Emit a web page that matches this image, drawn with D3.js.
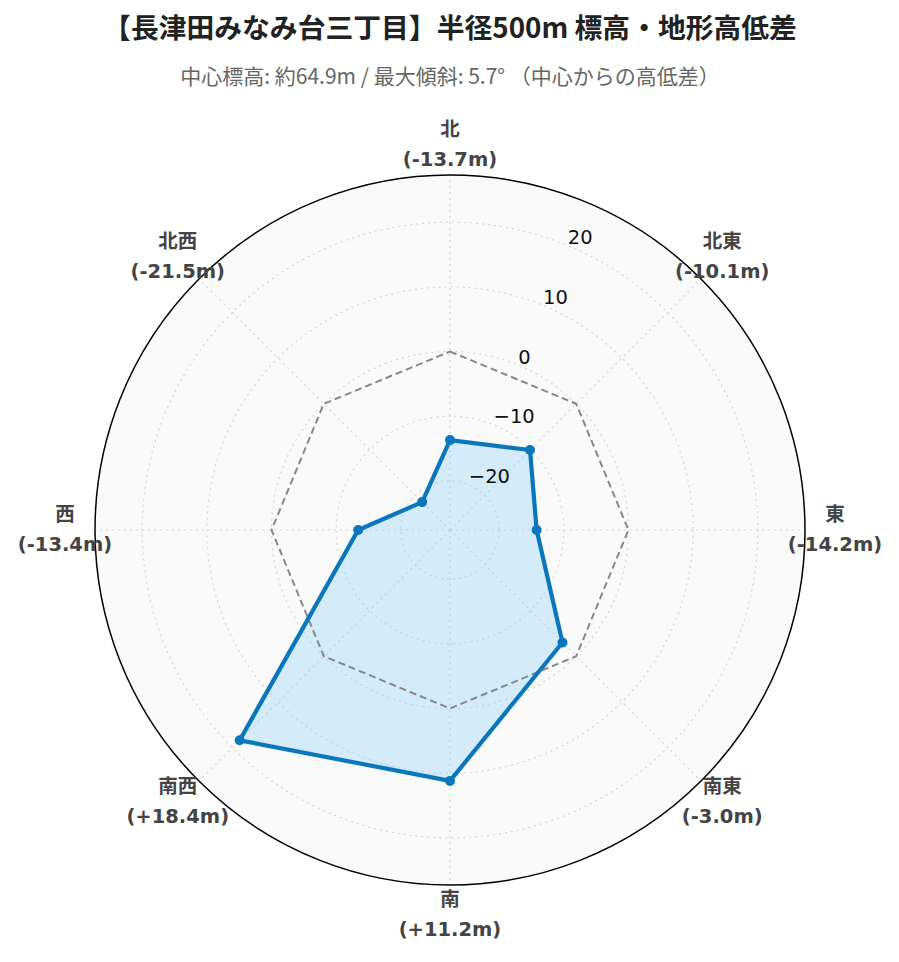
<!DOCTYPE html>
<html><head><meta charset="utf-8">
<script src="https://cdn.jsdelivr.net/npm/d3@7"></script>
<style>html,body{margin:0;padding:0;background:#fff;}</style>
</head><body>
<div id="chart"></div>
<script>
const titleText = "【長津田みなみ台三丁目】半径500m 標高・地形高低差";
const subtitleText = "中心標高: 約64.9m / 最大傾斜: 5.7° （中心からの高低差）";
const directions = ["北", "北東", "東", "南東", "南", "南西", "西", "北西"];
const diffs = [-13.7, -10.1, -14.2, -3.0, 11.2, 18.4, -13.4, -21.5];
const referenceValues = [0, 0, 0, 0, 0, 0, 0, 0];
const radialTicks = [-20, -10, 0, 10, 20];
const radialRange = [-27.6, 27.3];

const W = 899, H = 962;
const cx = 450, cy = 530, R = 355;
const svg = d3.select("#chart").append("svg").attr("width", W).attr("height", H);

const r = d3.scaleLinear().domain(radialRange).range([0, R]);
const ang = d3.scaleLinear().domain([0, directions.length]).range([0, 2 * Math.PI]);
const px = (a, rr) => cx + rr * Math.sin(a);
const py = (a, rr) => cy - rr * Math.cos(a);

// title
svg.append("text").attr("x", 450).attr("y", 38).attr("text-anchor", "middle")
  .attr("font-family", "'Noto Sans CJK JP', sans-serif").attr("font-weight", "bold")
  .attr("font-size", 27.8).attr("fill", "#222").text(titleText);
svg.append("text").attr("x", 450).attr("y", 84).attr("text-anchor", "middle")
  .attr("font-family", "'Noto Sans CJK JP', sans-serif")
  .attr("font-size", 21).attr("fill", "#666").text(subtitleText);

const g = svg.append("g");
// background
g.append("circle").attr("cx", cx).attr("cy", cy).attr("r", R).attr("fill", "#fafafa");

// radial grid circles
g.selectAll(".rgrid").data(radialTicks).join("circle")
  .attr("cx", cx).attr("cy", cy).attr("r", d => r(d))
  .attr("fill", "none").attr("stroke", "#d6d6d6").attr("stroke-width", 1.2)
  .attr("stroke-dasharray", "2,4");

// angular grid lines
g.selectAll(".agrid").data(directions).join("line")
  .attr("x1", cx).attr("y1", cy)
  .attr("x2", (d, i) => px(ang(i), R)).attr("y2", (d, i) => py(ang(i), R))
  .attr("stroke", "#d6d6d6").attr("stroke-width", 1.2).attr("stroke-dasharray", "2,4");

const lineGen = d3.lineRadial().angle((d, i) => ang(i)).radius(d => r(d)).curve(d3.curveLinearClosed);

// data fill (semi-transparent)
g.append("path").attr("transform", `translate(${cx},${cy})`)
  .attr("d", lineGen(diffs)).attr("fill", "rgb(135,206,250)").attr("fill-opacity", 0.32)
  .attr("stroke", "none");

// reference dashed line at 0
g.append("path").attr("transform", `translate(${cx},${cy})`)
  .attr("d", lineGen(referenceValues)).attr("fill", "none")
  .attr("stroke", "#888").attr("stroke-width", 2).attr("stroke-dasharray", "7,4");

// data outline
g.append("path").attr("transform", `translate(${cx},${cy})`)
  .attr("d", lineGen(diffs)).attr("fill", "none")
  .attr("stroke", "#0a77bd").attr("stroke-width", 4.2).attr("stroke-linejoin", "round");

// markers
g.selectAll(".pt").data(diffs).join("circle")
  .attr("cx", (d, i) => px(ang(i), r(d))).attr("cy", (d, i) => py(ang(i), r(d)))
  .attr("r", 5).attr("fill", "#0a77bd");

// outer circle
g.append("circle").attr("cx", cx).attr("cy", cy).attr("r", R)
  .attr("fill", "none").attr("stroke", "#000").attr("stroke-width", 1.5);

// radial tick labels along 22.5deg
const tickAngle = Math.PI / 8;
g.selectAll(".rtick").data(radialTicks).join("text")
  .attr("x", d => px(tickAngle, r(d))).attr("y", d => py(tickAngle, r(d)) - 7)
  .attr("dominant-baseline", "middle").attr("text-anchor", "start")
  .attr("font-family", "'DejaVu Sans', sans-serif").attr("font-size", 19.5).attr("fill", "#111")
  .text(d => d < 0 ? "\u2212" + Math.abs(d) : d);

// angular labels
const fmt = v => "(" + (v > 0 ? "+" : v < 0 ? "-" : "") + Math.abs(v).toFixed(1) + "m)";
const lab = g.selectAll(".alab").data(directions).join("text")
  .attr("text-anchor", "middle")
  .attr("font-family", "'DejaVu Sans', 'Noto Sans CJK JP', sans-serif").attr("font-weight", "bold")
  .attr("font-size", 19.5).attr("fill", "#444");
lab.append("tspan").attr("x", (d, i) => px(ang(i), 385)).attr("y", (d, i) => py(ang(i), 385) - 15)
  .attr("dominant-baseline", "middle").text(d => d);
lab.append("tspan").attr("x", (d, i) => px(ang(i), 385)).attr("y", (d, i) => py(ang(i), 385) + 15)
  .attr("dominant-baseline", "middle").text((d, i) => fmt(diffs[i]));
</script>
</body></html>
